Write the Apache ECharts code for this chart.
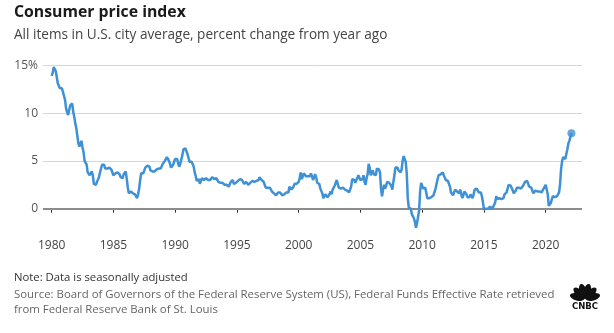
<!DOCTYPE html>
<html>
<head>
<meta charset="utf-8">
<script src="https://cdn.jsdelivr.net/npm/echarts@6/dist/echarts.min.js"></script>
<style>
  html, body { margin: 0; padding: 0; background: #fff; }
  #chart { width: 614px; height: 333px; }
</style>
</head>
<body>
<div id="chart"></div>
<script>
// CPI-U, all items, U.S. city average: percent change from a year earlier (monthly, SA)
const startYear = 1980;
const cpiYoY = [
  // 1980
  13.9, 14.2, 14.8, 14.7, 14.4, 14.4, 13.1, 12.9, 12.6, 12.8, 12.6, 12.5,
  // 1981
  11.8, 11.4, 10.5, 10.1, 9.8, 9.6, 10.8, 10.8, 11.0, 10.1, 9.6, 8.9,
  // 1982
  8.4, 7.6, 6.8, 6.5, 6.7, 7.1, 6.4, 5.9, 5.0, 5.1, 4.6, 3.8,
  // 1983
  3.7, 3.5, 3.6, 3.9, 3.5, 2.6, 2.4, 2.5, 2.8, 2.9, 3.3, 3.8,
  // 1984
  4.2, 4.6, 4.8, 4.6, 4.2, 4.2, 4.2, 4.3, 4.3, 4.3, 4.1, 3.9,
  // 1985
  3.5, 3.5, 3.7, 3.7, 3.8, 3.7, 3.6, 3.3, 3.1, 3.2, 3.6, 3.8,
  // 1986
  3.9, 3.1, 2.2, 1.6, 1.6, 1.8, 1.6, 1.6, 1.8, 1.5, 1.3, 1.1,
  // 1987
  1.5, 2.1, 3.0, 3.7, 3.9, 3.7, 3.9, 4.3, 4.4, 4.5, 4.5, 4.4,
  // 1988
  4.0, 4.0, 3.9, 3.9, 3.9, 4.0, 4.1, 4.0, 4.2, 4.2, 4.2, 4.4,
  // 1989
  4.7, 4.8, 5.0, 5.1, 5.4, 5.2, 5.0, 4.7, 4.3, 4.5, 4.6, 4.6,
  // 1990
  5.2, 5.3, 5.2, 4.7, 4.4, 4.7, 4.8, 5.6, 6.2, 6.3, 6.3, 6.1,
  // 1991
  5.7, 5.3, 4.9, 4.9, 4.9, 4.7, 4.4, 3.8, 3.4, 2.9, 3.0, 3.1,
  // 1992
  2.6, 2.8, 3.2, 3.2, 3.0, 3.1, 3.2, 3.1, 3.0, 3.2, 3.0, 2.9,
  // 1993
  3.3, 3.2, 3.1, 3.2, 3.2, 3.0, 2.8, 2.8, 2.7, 2.8, 2.7, 2.7,
  // 1994
  2.5, 2.5, 2.5, 2.4, 2.3, 2.5, 2.8, 2.9, 3.0, 2.6, 2.7, 2.7,
  // 1995
  2.8, 2.9, 2.9, 3.1, 3.2, 3.0, 2.8, 2.6, 2.5, 2.8, 2.6, 2.5,
  // 1996
  2.7, 2.7, 2.8, 2.9, 2.9, 2.8, 3.0, 2.9, 3.0, 3.0, 3.3, 3.3,
  // 1997
  3.0, 3.0, 2.8, 2.5, 2.2, 2.3, 2.2, 2.2, 2.2, 2.1, 1.8, 1.7,
  // 1998
  1.6, 1.4, 1.4, 1.4, 1.7, 1.7, 1.7, 1.6, 1.4, 1.5, 1.5, 1.6,
  // 1999
  1.7, 1.6, 1.7, 2.3, 2.1, 2.0, 2.1, 2.3, 2.6, 2.6, 2.6, 2.7,
  // 2000
  2.8, 3.2, 3.8, 3.1, 3.2, 3.7, 3.6, 3.4, 3.5, 3.4, 3.4, 3.4,
  // 2001
  3.7, 3.5, 3.0, 3.3, 3.6, 3.3, 2.7, 2.7, 2.6, 2.1, 1.9, 1.6,
  // 2002
  1.1, 1.1, 1.5, 1.6, 1.2, 1.1, 1.5, 1.8, 1.5, 2.0, 2.2, 2.4,
  // 2003
  2.6, 3.0, 3.0, 2.2, 2.1, 2.1, 2.1, 2.2, 2.3, 2.0, 1.8, 1.9,
  // 2004
  1.9, 1.7, 1.7, 2.3, 3.1, 3.3, 3.0, 2.7, 2.5, 3.2, 3.5, 3.3,
  // 2005
  3.0, 3.0, 3.1, 3.5, 2.8, 2.5, 3.2, 3.6, 4.7, 4.3, 3.5, 3.4,
  // 2006
  4.0, 3.6, 3.4, 3.5, 4.2, 4.3, 4.1, 3.8, 2.1, 1.3, 2.0, 2.5,
  // 2007
  2.1, 2.4, 2.8, 2.6, 2.7, 2.7, 2.4, 2.0, 2.8, 3.5, 4.3, 4.1,
  // 2008
  4.3, 4.0, 4.0, 3.8, 4.1, 5.0, 5.5, 5.3, 4.9, 3.7, 1.1, 0.1,
  // 2009
  0.0, 0.0, -0.6, -0.7, -1.0, -1.4, -2.0, -1.5, -1.3, -0.2, 1.8, 2.7,
  // 2010
  2.6, 2.1, 2.3, 2.2, 2.0, 1.1, 1.2, 1.1, 1.1, 1.2, 1.1, 1.4,
  // 2011
  1.6, 2.1, 2.6, 3.1, 3.5, 3.5, 3.6, 3.7, 3.8, 3.5, 3.4, 3.0,
  // 2012
  2.9, 2.9, 2.7, 2.3, 1.7, 1.7, 1.4, 1.7, 2.0, 2.2, 1.8, 1.7,
  // 2013
  1.6, 2.0, 1.5, 1.1, 1.4, 1.8, 2.0, 1.5, 1.2, 1.0, 1.2, 1.5,
  // 2014
  1.6, 1.1, 1.5, 2.0, 2.1, 2.1, 2.0, 1.7, 1.7, 1.7, 1.3, 0.7,
  // 2015
  -0.1, 0.0, 0.0, -0.2, 0.0, 0.1, 0.2, 0.2, 0.0, 0.1, 0.4, 0.7,
  // 2016
  1.3, 1.0, 0.9, 1.1, 1.0, 1.0, 0.8, 1.1, 1.5, 1.6, 1.7, 2.1,
  // 2017
  2.5, 2.7, 2.4, 2.2, 1.9, 1.6, 1.7, 1.9, 2.2, 2.0, 2.2, 2.1,
  // 2018
  2.1, 2.2, 2.4, 2.5, 2.8, 2.9, 2.9, 2.7, 2.3, 2.5, 2.2, 1.9,
  // 2019
  1.6, 1.5, 1.9, 2.0, 1.8, 1.6, 1.8, 1.7, 1.7, 1.8, 2.1, 2.3,
  // 2020
  2.5, 2.3, 1.5, 0.3, 0.1, 0.6, 1.0, 1.3, 1.4, 1.2, 1.2, 1.3,
  // 2021
  1.4, 1.7, 2.6, 4.2, 5.0, 5.4, 5.4, 5.2, 5.4, 6.2, 6.8, 7.1,
  // 2022
  7.5, 7.9
];

const yearTicks = [1980, 1985, 1990, 1995, 2000, 2005, 2010, 2015, 2020];
const valueTicks = [0, 5, 10, 15];

const titleText = 'Consumer price index';
const subtitleText = 'All items in U.S. city average, percent change from year ago';
const noteText = 'Note: Data is seasonally adjusted';
const sourceLines = [
  'Source: Board of Governors of the Federal Reserve System (US), Federal Funds Effective Rate retrieved',
  'from Federal Reserve Bank of St. Louis'
];

// monthly points on a decimal-year axis
const points = cpiYoY.map((v, i) => [startYear + i / 12, v]);
const lastPoint = points[points.length - 1];

const FONT = '"Open Sans", Lato, sans-serif';
const LINE = '#3f91d6';

// small peacock mark with the CNBC wordmark
function peacock(cx, cy) {
  const feathers = [];
  const angles = [-75, -45, -15, 15, 45, 75];
  angles.forEach(a => {
    feathers.push({
      type: 'ellipse',
      x: cx, y: cy,
      rotation: -a * Math.PI / 180,
      shape: { cx: 0, cy: -8, rx: 3.6, ry: 7.5 },
      style: { fill: '#111' }
    });
  });
  return [
    ...feathers,
    { type: 'text', x: cx, y: cy + 7.5, style: { text: 'CNBC', fill: '#111', font: 'bold 8.5px "DejaVu Sans", sans-serif', textAlign: 'center', textVerticalAlign: 'middle' } }
  ];
}

const chart = echarts.init(document.getElementById('chart'), null, { renderer: 'canvas' });

chart.setOption({
  animation: false,
  backgroundColor: '#fff',
  textStyle: { fontFamily: FONT },
  grid: { left: 43, right: 32, top: 65.3, bottom: 103.3, containLabel: false },
  xAxis: {
    type: 'value',
    min: 1979.3,
    max: 2022.94,
    axisLine: { show: false },
    splitLine: { show: false },
    axisTick: { show: true, customValues: yearTicks, length: 4, lineStyle: { color: '#333', width: 1 } },
    axisLabel: {
      customValues: yearTicks,
      margin: 10,
      color: '#444',
      fontSize: 12,
      fontFamily: FONT,
      formatter: v => String(v)
    }
  },
  yAxis: {
    type: 'value',
    min: -2.2,
    max: 15,
    axisLine: { show: false },
    axisTick: { show: false, customValues: valueTicks },
    axisLabel: {
      customValues: valueTicks,
      margin: 5,
      color: '#555',
      fontSize: 12,
      fontFamily: FONT,
      formatter: v => (v === 15 ? '15%' : String(v))
    },
    splitLine: { show: true, lineStyle: { color: '#d6d6d6', width: 1 } }
  },
  series: [
    {
      type: 'line',
      data: points,
      showSymbol: false,
      symbol: 'none',
      lineStyle: { color: LINE, width: 2.5 },
      z: 3,
      markLine: {
        silent: true,
        symbol: 'none',
        label: { show: false },
        lineStyle: { color: '#8c8c8c', width: 2, type: 'solid' },
        data: [{ yAxis: 0 }],
        z: 2
      }
    },
    {
      type: 'scatter',
      data: [lastPoint],
      symbolSize: 8,
      itemStyle: { color: LINE },
      z: 4
    }
  ],
  graphic: [
    { type: 'text', left: 14, top: 4, style: { text: titleText, fill: '#1a1a1a', font: 'bold 15.8px ' + FONT } },
    { type: 'text', left: 14, top: 28, style: { text: subtitleText, fill: '#444', font: '13.6px ' + FONT } },
    { type: 'text', left: 14, top: 272, style: { text: noteText, fill: '#333', font: '11.3px ' + FONT } },
    { type: 'text', left: 14, top: 289, style: { text: sourceLines[0], fill: '#666', font: '11.4px ' + FONT } },
    { type: 'text', left: 14, top: 304, style: { text: sourceLines[1], fill: '#666', font: '11.4px ' + FONT } },
    { type: 'group', children: peacock(585, 299) }
  ]
});
</script>
</body>
</html>
